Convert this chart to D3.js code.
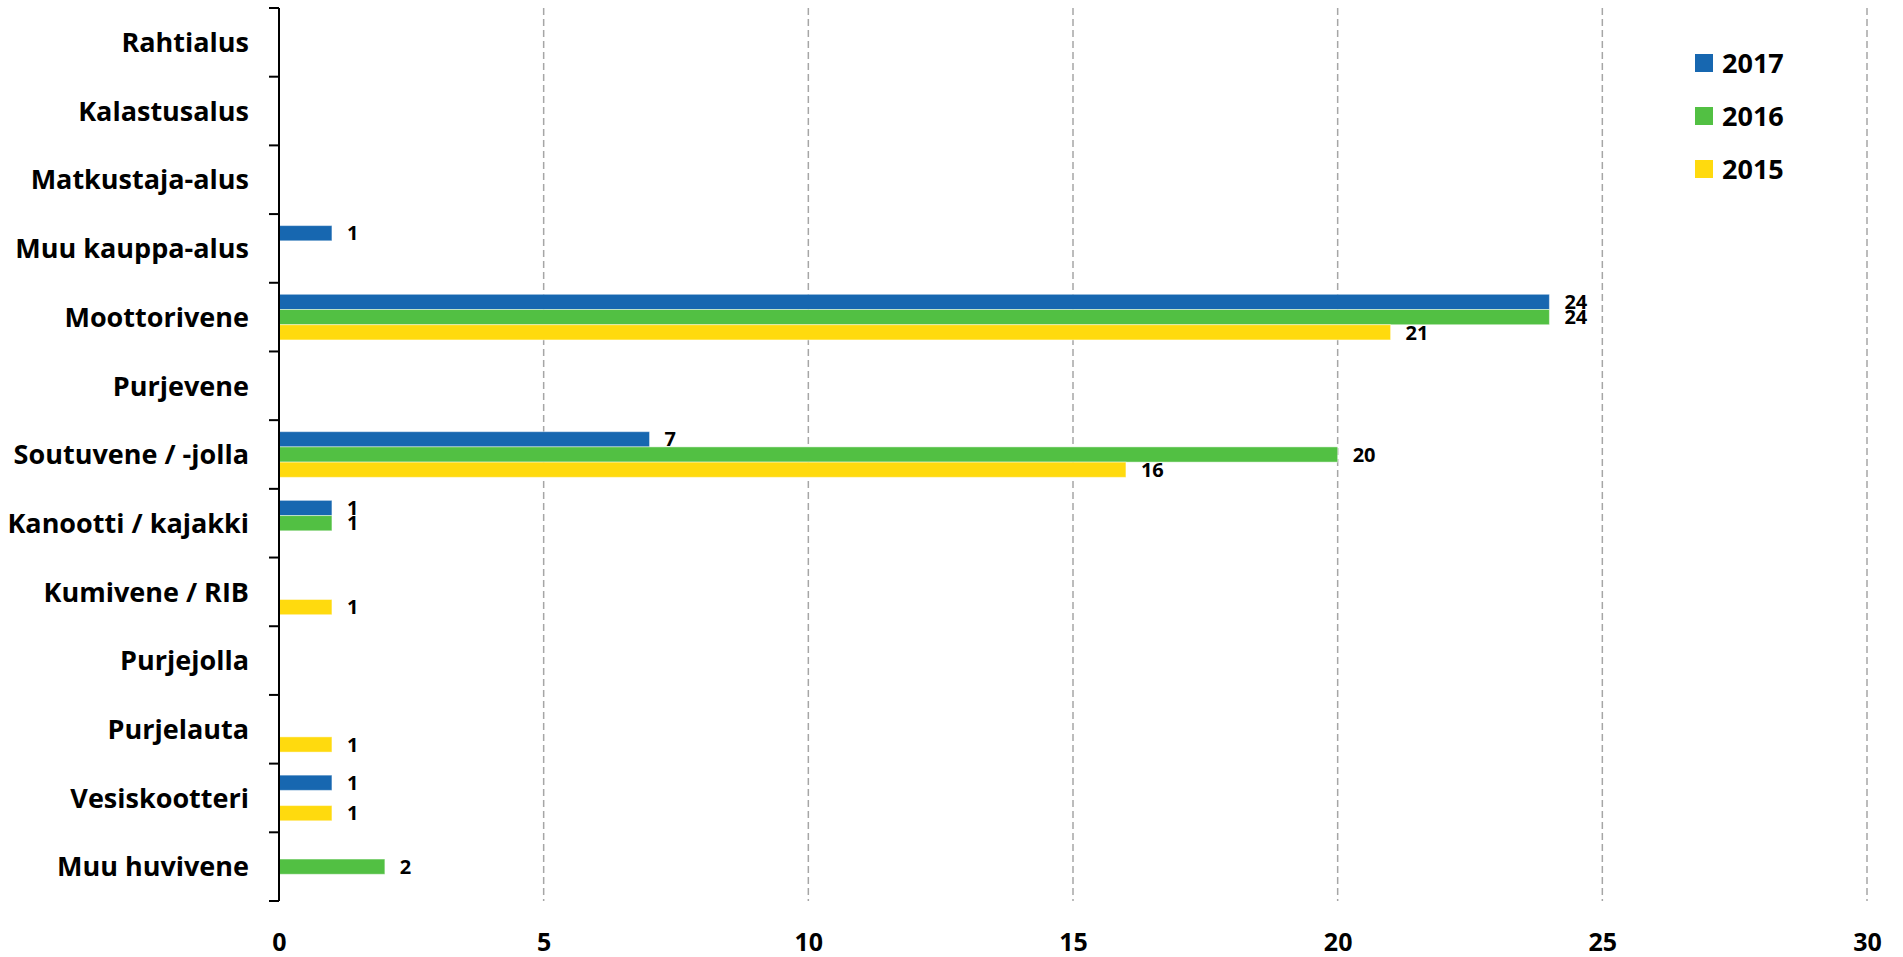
<!DOCTYPE html>
<html>
<head>
<meta charset="utf-8">
<script src="https://cdn.jsdelivr.net/npm/d3@7"></script>
<style>
  body { margin: 0; background: #fff; }
  svg text { font-family: "Open Sans", Lato, sans-serif; font-weight: bold; fill: #000; }
</style>
</head>
<body>
<script>
// data
let categories = ["Rahtialus", "Kalastusalus", "Matkustaja-alus", "Muu kauppa-alus", "Moottorivene",
    "Purjevene", "Soutuvene / -jolla", "Kanootti / kajakki", "Kumivene / RIB", "Purjejolla",
    "Purjelauta", "Vesiskootteri", "Muu huvivene"]
let series = ["2017", "2016", "2015"]
let values2017 = [null, null, null, 1, 24, null, 7, 1, null, null, null, 1, null]
let values2016 = [null, null, null, null, 24, null, 20, 1, null, null, null, null, 2]
let values2015 = [null, null, null, null, 21, null, 16, null, 1, null, 1, 1, null]
let xTicks = [0, 5, 10, 15, 20, 25, 30]
let colors = ["#1767b0", "#52c043", "#ffda0e"]

let width = 1903, height = 957
let margin = { top: 8, right: 36, bottom: 56, left: 279 }

let svg = d3.select("body").append("svg")
    .attr("width", width)
    .attr("height", height)

let x = d3.scaleLinear()
    .domain([0, 30])
    .range([margin.left, 1867])

let y = d3.scaleBand()
    .domain(categories)
    .range([margin.top, height - margin.bottom])

let ySub = d3.scaleBand()
    .domain(series)
    .range([0, y.bandwidth()])
    .paddingOuter(0.757)

let color = d3.scaleOrdinal().domain(series).range(colors)

// gridlines
svg.append("g")
    .selectAll("line")
    .data(xTicks.filter(d => d > 0))
    .enter().append("line")
    .attr("x1", d => x(d)).attr("x2", d => x(d))
    .attr("y1", margin.top).attr("y2", height - margin.bottom)
    .style("stroke", "#a6a6a6")
    .style("stroke-width", 1.5)
    .style("stroke-dasharray", "7,4")

// x axis labels
let xAxis = d3.axisBottom(x).tickValues(xTicks).tickSize(0).tickPadding(0)
let gx = svg.append("g")
    .attr("transform", `translate(0,${height - margin.bottom})`)
    .call(xAxis)
gx.select(".domain").remove()
gx.selectAll("text")
    .attr("y", 41)
    .attr("dy", "0.36em")
    .style("font-size", "25px")

// bars
let rows = categories.map((c, i) => ({
    cat: c,
    vals: [
        { s: "2017", v: values2017[i] },
        { s: "2016", v: values2016[i] },
        { s: "2015", v: values2015[i] }
    ].filter(d => d.v != null)
}))

let groups = svg.append("g")
    .selectAll("g")
    .data(rows)
    .enter().append("g")
    .attr("transform", d => `translate(0,${y(d.cat)})`)

groups.selectAll("rect")
    .data(d => d.vals)
    .enter().append("rect")
    .attr("x", x(0))
    .attr("y", d => ySub(d.s))
    .attr("width", d => x(d.v) - x(0))
    .attr("height", ySub.bandwidth())
    .style("fill", d => color(d.s))
    .style("stroke", "rgba(255,255,255,0.45)")
    .style("stroke-width", 1)

groups.selectAll("text")
    .data(d => d.vals)
    .enter().append("text")
    .attr("x", d => x(d.v) + 15)
    .attr("y", d => ySub(d.s) + ySub.bandwidth() / 2)
    .attr("dy", "0.36em")
    .style("font-size", "20px")
    .text(d => d.v)

// category axis
let axisG = svg.append("g")
axisG.append("line")
    .attr("x1", x(0)).attr("x2", x(0))
    .attr("y1", margin.top).attr("y2", height - margin.bottom)
    .style("stroke", "#000")
    .style("stroke-width", 2)

let bounds = categories.map(c => y(c)).concat([y.range()[1]])
axisG.selectAll(".tick-line")
    .data(bounds)
    .enter().append("line")
    .attr("class", "tick-line")
    .attr("x1", x(0) - 10).attr("x2", x(0))
    .attr("y1", d => d).attr("y2", d => d)
    .style("stroke", "#000")
    .style("stroke-width", 2)

axisG.selectAll(".cat-label")
    .data(categories)
    .enter().append("text")
    .attr("class", "cat-label")
    .attr("x", 249)
    .attr("y", d => y(d) + y.bandwidth() / 2)
    .attr("dy", "0.36em")
    .attr("text-anchor", "end")
    .style("font-size", "27px")
    .text(d => d)

// legend
let legend = svg.append("g")
    .attr("transform", "translate(1695,54)")

let li = legend.selectAll("g")
    .data(series)
    .enter().append("g")
    .attr("transform", (d, i) => `translate(0,${i * 53})`)

li.append("rect")
    .attr("width", 18).attr("height", 18)
    .style("fill", d => color(d))

li.append("text")
    .attr("x", 27)
    .attr("y", 9)
    .attr("dy", "0.36em")
    .style("font-size", "27px")
    .text(d => d)
</script>
</body>
</html>
